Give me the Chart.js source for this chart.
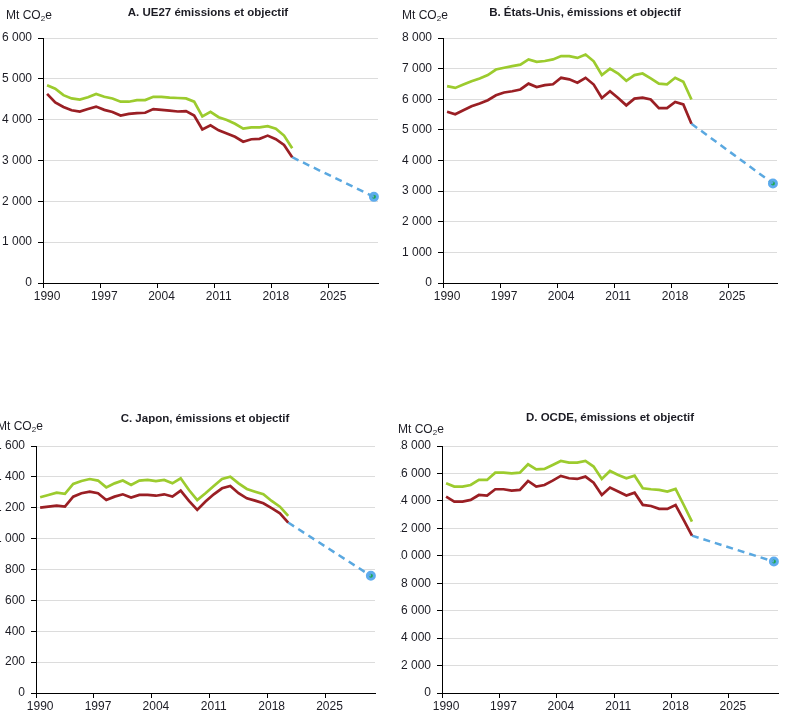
<!DOCTYPE html>
<html>
<head>
<meta charset="utf-8">
<script src="https://cdn.jsdelivr.net/npm/chart.js@4.4.0/dist/chart.umd.min.js"></script>
<style>
  body { margin: 0; background: #fff; width: 801px; height: 721px; overflow: hidden; position: relative;
         font-family: Arial, "Liberation Sans", sans-serif; color: #1c1c24; }
  canvas { position: absolute; }
  .ttl { position: absolute; font-weight: bold; font-size: 11.5px; transform: translateX(-50%); white-space: nowrap; }
  .unit { position: absolute; font-size: 12px; white-space: nowrap; }
  .unit sub { font-size: 8px; vertical-align: -2px; line-height: 0; }
</style>
</head>
<body>
<canvas id="chartA" width="400" height="310" style="left:0;top:0"></canvas>
<canvas id="chartB" width="401" height="310" style="left:400px;top:0"></canvas>
<canvas id="chartC" width="408" height="321" style="left:-8px;top:400px"></canvas>
<canvas id="chartD" width="401" height="321" style="left:400px;top:400px"></canvas>

<div class="unit" style="left:6px;top:8px">Mt CO<sub>2</sub>e</div>
<div class="ttl" style="left:208px;top:6px">A. UE27 émissions et objectif</div>
<div class="unit" style="left:402px;top:8px">Mt CO<sub>2</sub>e</div>
<div class="ttl" style="left:585px;top:6px">B. États-Unis, émissions et objectif</div>
<div class="unit" style="left:-3px;top:419px">Mt CO<sub>2</sub>e</div>
<div class="ttl" style="left:205px;top:412px">C. Japon, émissions et objectif</div>
<div class="unit" style="left:398px;top:422px">Mt CO<sub>2</sub>e</div>
<div class="ttl" style="left:610px;top:411px">D. OCDE, émissions et objectif</div>

<script>
// years on the axis (one band per year)
const axisYears = [1990, 1991, 1992, 1993, 1994, 1995, 1996, 1997, 1998, 1999,
                   2000, 2001, 2002, 2003, 2004, 2005, 2006, 2007, 2008, 2009,
                   2010, 2011, 2012, 2013, 2014, 2015, 2016, 2017, 2018, 2019,
                   2020, 2021, 2022, 2023, 2024, 2025, 2026, 2027, 2028, 2029, 2030];
// years with observed emissions
const years = [1990, 1991, 1992, 1993, 1994, 1995, 1996, 1997, 1998, 1999,
               2000, 2001, 2002, 2003, 2004, 2005, 2006, 2007, 2008, 2009,
               2010, 2011, 2012, 2013, 2014, 2015, 2016, 2017, 2018, 2019, 2020];
const xTicks = [1990, 1997, 2004, 2011, 2018, 2025];
const targetYear = 2030;

// A. UE27
const euGreen = [4840, 4760, 4600, 4520, 4490, 4550, 4630, 4560, 4520, 4440,
                 4440, 4480, 4480, 4560, 4560, 4540, 4530, 4520, 4440, 4080,
                 4190, 4060, 3990, 3900, 3780, 3810, 3810, 3840, 3780, 3610, 3300];
const euRed = [4630, 4420, 4310, 4230, 4200, 4260, 4320, 4240, 4190, 4100,
               4140, 4160, 4170, 4260, 4240, 4220, 4200, 4210, 4100, 3760,
               3860, 3740, 3660, 3580, 3460, 3520, 3530, 3610, 3520, 3380, 3080];
const euTarget = 2110;

// B. États-Unis
const usGreen = [6430, 6370, 6480, 6590, 6680, 6790, 6970, 7030, 7080, 7130,
                 7300, 7220, 7250, 7300, 7410, 7410, 7350, 7460, 7240, 6790,
                 7000, 6840, 6600, 6790, 6840, 6680, 6510, 6490, 6700, 6570, 5990];
const usRed = [5590, 5510, 5640, 5770, 5860, 5970, 6130, 6220, 6260, 6320,
               6510, 6400, 6460, 6490, 6700, 6650, 6540, 6700, 6480, 6040,
               6260, 6040, 5800, 6020, 6050, 5990, 5710, 5710, 5910, 5830, 5200];
const usTarget = 3250;

// C. Japon
const jpGreen = [1268, 1283, 1298, 1290, 1354, 1373, 1386, 1376, 1332, 1358,
                 1376, 1347, 1376, 1380, 1373, 1380, 1358, 1391, 1315, 1250,
                 1294, 1341, 1386, 1401, 1358, 1322, 1304, 1287, 1244, 1207, 1147];
const jpRed = [1201, 1207, 1214, 1207, 1272, 1294, 1304, 1294, 1250, 1272,
               1287, 1266, 1283, 1283, 1278, 1287, 1272, 1311, 1244, 1186,
               1240, 1287, 1326, 1341, 1294, 1261, 1246, 1229, 1197, 1164, 1104];
const jpTarget = 759;

// D. OCDE
const oecdGreen = [15280, 15040, 15040, 15160, 15530, 15530, 16060, 16060, 16010, 16060,
                   16670, 16300, 16330, 16620, 16910, 16790, 16790, 16910, 16500, 15600,
                   16180, 15890, 15650, 15840, 14920, 14850, 14800, 14680, 14870, 13700, 12490];
const oecdRed = [14310, 13950, 13950, 14070, 14430, 14390, 14850, 14850, 14750, 14800,
                 15450, 15040, 15160, 15480, 15820, 15650, 15600, 15770, 15330, 14430,
                 14970, 14680, 14390, 14600, 13710, 13630, 13420, 13420, 13700, 12600, 11470];
const oecdTarget = 9580;

const GREEN = "#9ccb2e";
const RED = "#9a1f24";
const BLUE = "#5aa8e0";
const FONT = "Arial, 'Liberation Sans', sans-serif";

const spaced = v => String(v).replace(/\B(?=(\d{3})+(?!\d))/g, " ");
const isTick = i => xTicks.includes(axisYears[i]);

function makePanel(id, green, red, target, yMax, yStep, box) {
  const W = box.w, H = box.h;
  const pts = vals => years.map((yr, i) => ({ x: yr, y: vals[i] }));
  const last = red[red.length - 1];
  new Chart(document.getElementById(id), {
    type: "line",
    data: {
      labels: axisYears,
      datasets: [
        { data: pts(green), borderColor: GREEN, borderWidth: 2.7, pointRadius: 0, tension: 0 },
        { data: pts(red), borderColor: RED, borderWidth: 2.7, pointRadius: 0, tension: 0 },
        { data: [{ x: years[years.length - 1], y: last }, { x: targetYear, y: target }],
          borderColor: BLUE, borderWidth: 2.5, borderDash: [7, 5], pointRadius: 0 },
        { data: [{ x: targetYear, y: target }], showLine: false,
          pointRadius: 3.5, pointBackgroundColor: "#1ea84c", pointBorderColor: "#5eacee", pointBorderWidth: 3 }
      ]
    },
    options: {
      responsive: false,
      animation: false,
      layout: { padding: { left: 0, top: box.top, right: W - box.right, bottom: 0 } },
      plugins: { legend: { display: false }, tooltip: { enabled: false } },
      scales: {
        x: {
          type: "category",
          offset: true,
          afterFit: s => { s.height = H - box.bottom; },
          border: { display: true, color: "#000", width: 1 },
          grid: { offset: true, drawOnChartArea: false, drawTicks: true, tickLength: 5,
                  tickColor: c => isTick(c.index) ? "#000" : "rgba(0,0,0,0)" },
          ticks: { color: "#1c1c24", font: { family: FONT, size: 12 }, padding: 1, maxRotation: 0,
                   autoSkip: false,
                   callback: (v, i) => isTick(i) ? String(axisYears[i]) : "" }
        },
        y: {
          min: 0, max: yMax,
          afterFit: s => { s.width = box.left; },
          border: { display: true, color: "#000", width: 1 },
          grid: { color: "#dcdcdc", lineWidth: 1, tickLength: 5, tickColor: "#000" },
          ticks: { stepSize: yStep, color: "#1c1c24", font: { family: FONT, size: 12 }, padding: 6,
                   callback: v => spaced(v) }
        }
      }
    }
  });
}

makePanel("chartA", euGreen, euRed, euTarget, 6000, 1000, { w: 400, h: 310, left: 43, right: 378, top: 38, bottom: 283 });
makePanel("chartB", usGreen, usRed, usTarget, 8000, 1000, { w: 401, h: 310, left: 43, right: 377, top: 38, bottom: 283 });
makePanel("chartC", jpGreen, jpRed, jpTarget, 1600, 200, { w: 408, h: 321, left: 44, right: 383, top: 46, bottom: 293 });
makePanel("chartD", oecdGreen, oecdRed, oecdTarget, 18000, 2000, { w: 401, h: 321, left: 42, right: 378, top: 46, bottom: 293 });
</script>
</body>
</html>
